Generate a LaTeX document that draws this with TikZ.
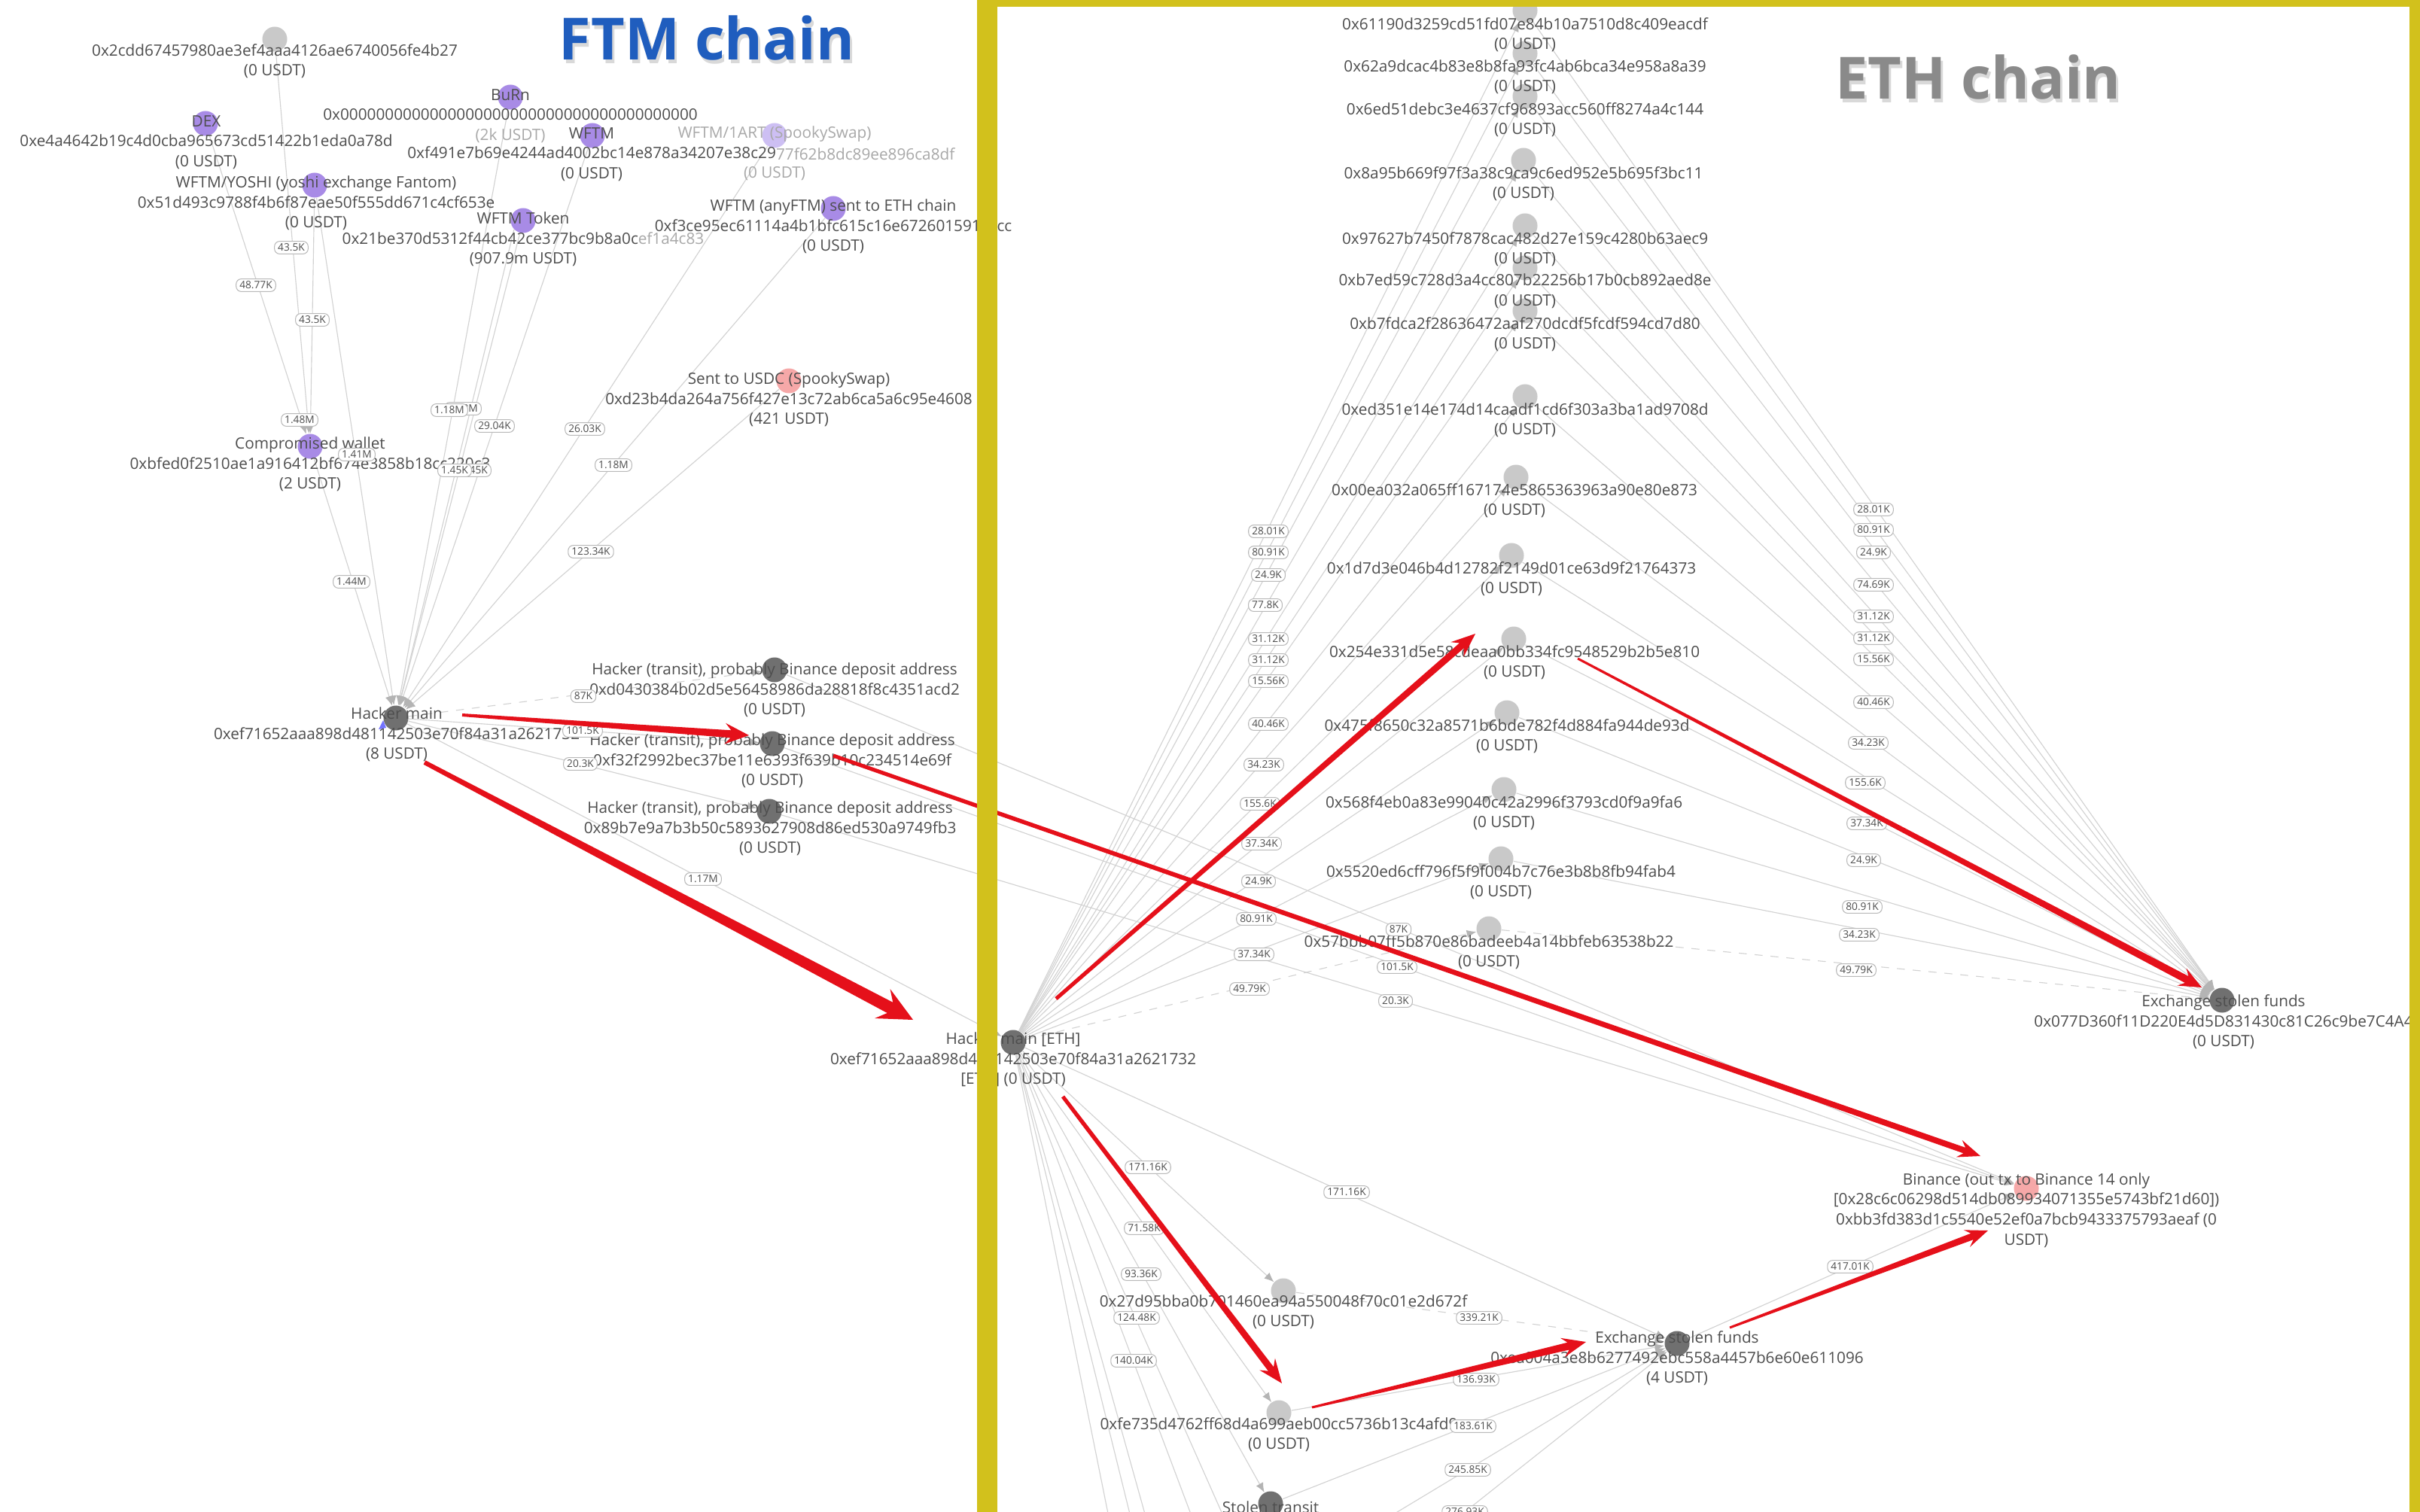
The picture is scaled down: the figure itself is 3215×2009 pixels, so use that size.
\documentclass[tikz,border=0pt]{standalone}
\usepackage{fontspec}
\setmainfont{Open Sans}
\usetikzlibrary{calc,arrows.meta}
\definecolor{txtc}{HTML}{4E4E4E}
\definecolor{txtl}{HTML}{A8A8A8}
\definecolor{edgec}{HTML}{D2D2D2}
\definecolor{tipc}{HTML}{B4B4B4}
\definecolor{purp}{HTML}{A88BE6}
\definecolor{lpurp}{HTML}{CDBFF3}
\definecolor{dgray}{HTML}{707070}
\definecolor{lgray}{HTML}{C9C9C9}
\definecolor{pinkc}{HTML}{F6A8A8}
\definecolor{yel}{HTML}{D2C11C}
\definecolor{redc}{HTML}{E5101A}
\definecolor{ftmblue}{HTML}{1F5DBE}
\definecolor{ethgray}{HTML}{8A8A8A}
\pgfdeclarelayer{bg}
\pgfsetlayers{bg,main}
\newcommand\redarrow[6]{%
  \pgfmathsetlengthmacro\raA{#3*0.005cm}%
  \pgfmathsetlengthmacro\raB{#4*0.005cm}%
  \pgfmathsetlengthmacro\raC{#5*0.005cm}%
  \pgfmathsetlengthmacro\raD{#6*0.01cm}%
  \pgfmathsetlengthmacro\raE{#6*0.0075cm}%
  \coordinate (rah) at ($(#2)!\raD!(#1)$);
  \coordinate (ran) at ($(#2)!\raE!(#1)$);
  \fill[redc] ($(#1)!\raA!90:(#2)$) -- ($(ran)!\raB!-90:(#1)$) -- ($(rah)!\raC!-90:(#1)$) -- (#2)
     -- ($(rah)!\raC!90:(#1)$) -- ($(ran)!\raB!90:(#1)$) -- ($(#1)!\raA!-90:(#2)$) -- cycle;
}
\newcommand\elab[3]{\node[elbl] (#1) at (#2) {#3};}
\begin{document}
\begin{tikzpicture}[x=0.01cm,y=-0.01cm,
 lbl/.style={font=\fontsize{5.9}{7.55}\selectfont, text=txtc, align=center, inner sep=0pt},
 dot/.style={circle, minimum size=0.33cm, inner sep=0pt, fill=#1},
 gline/.style={draw=edgec, line width=0.32pt, -{Latex[length=3.6pt,width=3pt,color=tipc]}},
 elbl/.style={font=\fontsize{3.9}{4.3}\selectfont, text=txtc, fill=white, draw=gray!55, line width=0.3pt, rounded corners=2pt, inner xsep=1.3pt, inner ysep=0.8pt, text height=2.9pt, text depth=0.3pt},
 title/.style={font=\fontsize{22}{26}\selectfont\bfseries, anchor=base, inner sep=0pt},
]
\path[use as bounding box] (0,0) rectangle (3215,2009);
\clip (0,0) rectangle (3215,2009);
\begin{pgfonlayer}{bg}
\fill[white] (0,0) rectangle (3215,2009);
\end{pgfonlayer}

% titles
\node[title, text=gray!30] (ftmsh) at (942,85) {FTM chain};
\node[title, text=ftmblue] (ftm) at (939,80) {FTM chain};
\node[title, text=gray!30] (ethsh) at (2631,137) {ETH chain};
\node[title, text=ethgray] (eth) at (2628,132) {ETH chain};

% ---------- FTM circles
\node[dot=lgray] (n2cdd) at (365,52) {};
\node[dot=purp] (burn) at (678,129) {};
\node[dot=purp] (dex) at (273,164) {};
\node[dot=purp] (wftm) at (787,180) {};
\node[dot=lpurp] (art) at (1029,180) {};
\node[dot=purp] (yoshi) at (418,246) {};
\node[dot=purp] (wtok) at (695,293) {};
\node[dot=purp] (any) at (1107,277) {};
\node[dot=pinkc] (usdc) at (1048,506) {};
\node[dot=purp] (comp) at (412,593) {};
\node[dot=dgray] (hmain) at (526,954) {};
\node[dot=dgray] (t1) at (1029,890) {};
\node[dot=dgray] (t2) at (1026,988) {};
\node[dot=dgray] (t3) at (1022,1078) {};

% ---------- ETH circles
\node[dot=dgray] (heth) at (1346,1385) {};
\node[dot=lgray] (na) at (2026,14) {};
\node[dot=lgray] (nb) at (2026,71) {};
\node[dot=lgray] (nc) at (2026,128) {};
\node[dot=lgray] (nd) at (2024,213) {};
\node[dot=lgray] (ne) at (2026,300) {};
\node[dot=lgray] (nf) at (2026,356) {};
\node[dot=lgray] (ng) at (2026,413) {};
\node[dot=lgray] (nh) at (2026,527) {};
\node[dot=lgray] (ni) at (2014,634) {};
\node[dot=lgray] (nj) at (2008,738) {};
\node[dot=lgray] (nk) at (2011,849) {};
\node[dot=lgray] (nl) at (2002,947) {};
\node[dot=lgray] (nm) at (1998,1049) {};
\node[dot=lgray] (nn) at (1994,1141) {};
\node[dot=lgray] (no) at (1978,1234) {};
\node[dot=dgray] (ex1) at (2952,1329) {};
\node[dot=pinkc] (bin) at (2692,1579) {};
\node[dot=lgray] (c27) at (1705,1715) {};
\node[dot=dgray] (ex2) at (2228,1785) {};
\node[dot=lgray] (cfe) at (1699,1877) {};
\node[dot=dgray] (stt) at (1688,1998) {};
\coordinate (offp) at (1672,2120);
\coordinate (offq) at (1665,2232);
\coordinate (offx) at (1560,2250);
\coordinate (offy) at (1500,2150);
\coordinate (offz) at (1610,2330);

% ---------- edges
\begin{pgfonlayer}{bg}
\draw[gline] (n2cdd) -- (comp);
\draw[gline] (dex) -- (comp);
\draw[gline] (yoshi) -- (comp);
\draw[gline] (yoshi) -- (hmain);
\draw[gline] (comp) -- (hmain);
\draw[gline] (burn) -- (hmain);
\draw[gline] (wftm) -- (hmain);
\draw[gline] (wtok) -- (hmain);
\draw[gline] (wtok.south west) -- (hmain);
\draw[gline] (art) -- (hmain);
\draw[gline] (any) -- (hmain);
\draw[gline] (usdc) -- (hmain);
\draw[gline, dashed] (hmain) -- (t1);
\draw[gline] (hmain) -- (t2);
\draw[gline] (hmain) -- (t3);
\draw[gline] (hmain) -- (heth);
\draw[gline] (t1) -- (bin);
\draw[gline] (t2) -- (bin);
\draw[gline] (t3) -- (bin);
\foreach \n in {na,nb,nc,nd,ne,nf,ng,nh,ni,nj,nk,nl,nm,nn} {
  \draw[gline] (heth) -- (\n);
  \draw[gline] (\n) -- (ex1);
}
\draw[gline, dashed] (heth) -- (no);
\draw[gline, dashed] (no) -- (ex1);
\draw[gline] (heth) -- (c27);
\draw[gline] (heth) -- (ex2);
\draw[gline] (heth) -- (cfe);
\draw[gline] (heth) -- (stt);
\draw[gline] (heth) -- (offp);
\draw[gline] (heth) -- (offq);
\draw[gline] (heth) -- (offx);
\draw[gline] (heth) -- (offy);
\draw[gline] (heth) -- (offz);
\draw[gline, dashed] (c27) -- (ex2);
\draw[gline] (cfe) -- (ex2);
\draw[gline] (stt) -- (ex2);
\draw[gline] (offp) -- (ex2);
\draw[gline] (offq) -- (ex2);
\draw[gline] (ex2) -- (bin);
\end{pgfonlayer}

% ---------- FTM labels
\node[lbl] (n2cdd-l) at (365,81) {0x2cdd67457980ae3ef4aaa4126ae6740056fe4b27\\(0 USDT)};
\node[lbl] (dex-l) at (274,189) {DEX\\0xe4a4642b19c4d0cba965673cd51422b1eda0a78d\\(0 USDT)};
\node[lbl, text=txtl] (art-l1) at (1029,178) {WFTM/1ART (SpookySwap)};
\node[lbl, text=txtl, anchor=east] (art-l2) at (1269,205) {77f62b8dc89ee896ca8df};
\node[lbl, text=txtl] (art-l3) at (1029,231) {(0 USDT)};
\node[lbl] (burn-l) at (678,154) {BuRn\\0x0000000000000000000000000000000000000000\\{\color{txtl}(2k USDT)}};
\node[lbl] (wftm-l) at (786,205) {WFTM\\0xf491e7b69e4244ad4002bc14e878a34207e38c29\\(0 USDT)};
\node[lbl] (yoshi-l) at (420,270) {WFTM/YOSHI (yoshi exchange Fantom)\\0x51d493c9788f4b6f87eae50f555dd671c4cf653e\\(0 USDT)};
\node[lbl] (wtok-l) at (695,318) {WFTM Token\\0x21be370d5312f44cb42ce377bc9b8a0c{\color{txtl}ef1a4c83}\\(907.9m USDT)};
\node[lbl] (any-l) at (1107,301) {WFTM (anyFTM) sent to ETH chain\\0xf3ce95ec61114a4b1bfc615c16e6726015913ccc\\(0 USDT)};
\node[lbl] (usdc-l) at (1048,531) {Sent to USDC (SpookySwap)\\0xd23b4da264a756f427e13c72ab6ca5a6c95e4608\\(421 USDT)};
\node[lbl] (comp-l) at (412,617) {Compromised wallet\\0xbfed0f2510ae1a916412bf674e3858b18cc220c3\\(2 USDT)};
\node[lbl] (hmain-l) at (527,976) {Hacker main\\0xef71652aaa898d481142503e70f84a31a2621732\\(8 USDT)};
\node[lbl] (t1-l) at (1029,917) {Hacker (transit), probably Binance deposit address\\0xd0430384b02d5e56458986da28818f8c4351acd2\\(0 USDT)};
\node[lbl] (t2-l) at (1026,1011) {Hacker (transit), probably Binance deposit address\\0xf32f2992bec37be11e6393f639b10c234514e69f\\(0 USDT)};
\node[lbl] (t3-l) at (1023,1101) {Hacker (transit), probably Binance deposit address\\0x89b7e9a7b3b50c5893627908d86ed530a9749fb3\\(0 USDT)};
\fill[blue!55!white] (503,969) -- (509,957) -- (513,967) -- cycle;

% ---------- ETH labels
\node[lbl] (heth-l) at (1346,1408) {Hacker main [ETH]\\0xef71652aaa898d481142503e70f84a31a2621732\\{[ETH] (0 USDT)}};
\node[lbl] (na-l) at (2026,46) {0x61190d3259cd51fd07e84b10a7510d8c409eacdf\\(0 USDT)};
\node[lbl] (nb-l) at (2026,102) {0x62a9dcac4b83e8b8fa93fc4ab6bca34e958a8a39\\(0 USDT)};
\node[lbl] (nc-l) at (2026,159) {0x6ed51debc3e4637cf96893acc560ff8274a4c144\\(0 USDT)};
\node[lbl] (nd-l) at (2024,244) {0x8a95b669f97f3a38c9ca9c6ed952e5b695f3bc11\\(0 USDT)};
\node[lbl] (ne-l) at (2026,331) {0x97627b7450f7878cac482d27e159c4280b63aec9\\(0 USDT)};
\node[lbl] (nf-l) at (2026,387) {0xb7ed59c728d3a4cc807b22256b17b0cb892aed8e\\(0 USDT)};
\node[lbl] (ng-l) at (2026,444) {0xb7fdca2f28636472aaf270dcdf5fcdf594cd7d80\\(0 USDT)};
\node[lbl] (nh-l) at (2026,558) {0xed351e14e174d14caadf1cd6f303a3ba1ad9708d\\(0 USDT)};
\node[lbl] (ni-l) at (2012,665) {0x00ea032a065ff167174e5865363963a90e80e873\\(0 USDT)};
\node[lbl] (nj-l) at (2008,769) {0x1d7d3e046b4d12782f2149d01ce63d9f21764373\\(0 USDT)};
\node[lbl] (nk-l) at (2012,880) {0x254e331d5e58cdeaa0bb334fc9548529b2b5e810\\(0 USDT)};
\node[lbl] (nl-l) at (2002,978) {0x475f8650c32a8571b6bde782f4d884fa944de93d\\(0 USDT)};
\node[lbl] (nm-l) at (1998,1080) {0x568f4eb0a83e99040c42a2996f3793cd0f9a9fa6\\(0 USDT)};
\node[lbl] (nn-l) at (1994,1172) {0x5520ed6cff796f5f9f004b7c76e3b8b8fb94fab4\\(0 USDT)};
\node[lbl] (no-l) at (1978,1265) {0x57bbb07ff5b870e86badeeb4a14bbfeb63538b22\\(0 USDT)};
\node[lbl] (ex1-l) at (2954,1358) {Exchange stolen funds\\0x077D360f11D220E4d5D831430c81C26c9be7C4A4\\(0 USDT)};
\node[lbl] (bin-l) at (2692,1608) {Binance (out tx to Binance 14 only\\{[0x28c6c06298d514db089934071355e5743bf21d60])}\\0xbb3fd383d1c5540e52ef0a7bcb9433375793aeaf (0\\USDT)};
\node[lbl] (c27-l) at (1705,1743) {0x27d95bba0b701460ea94a550048f70c01e2d672f\\(0 USDT)};
\node[lbl] (ex2-l) at (2228,1805) {Exchange stolen funds\\0xea004a3e8b6277492ebc558a4457b6e60e611096\\(4 USDT)};
\node[lbl] (cfe-l) at (1699,1906) {0xfe735d4762ff68d4a699aeb00cc5736b13c4afd9\\(0 USDT)};
\node[lbl] (stt-l) at (1688,2003) {Stolen transit};

% ---------- edge labels FTM
\elab{f01}{387,329}{43.5K}
\elab{f02}{340,379}{48.77K}
\elab{f03}{415,425}{43.5K}
\elab{f04}{398,558}{1.48M}
\elab{f05}{474,604}{1.41M}
\elab{f06}{615,543}{1.18M}
\elab{f07}{597,545}{1.18M}
\elab{f08}{657,566}{29.04K}
\elab{f09}{777,570}{26.03K}
\elab{f10}{815,618}{1.18M}
\elab{f11}{630,625}{1.45K}
\elab{f12}{604,625}{1.45K}
\elab{f13}{785,733}{123.34K}
\elab{f14}{467,773}{1.44M}
\elab{f15}{775,925}{87K}
\elab{f16}{774,971}{101.5K}
\elab{f17}{771,1015}{20.3K}
\elab{f18}{934,1168}{1.17M}

% ---------- edge labels ETH left
\elab{l01}{1685,706}{28.01K}
\elab{l02}{1685,734}{80.91K}
\elab{l03}{1685,764}{24.9K}
\elab{l04}{1681,804}{77.8K}
\elab{l05}{1685,849}{31.12K}
\elab{l06}{1685,877}{31.12K}
\elab{l07}{1685,905}{15.56K}
\elab{l08}{1685,962}{40.46K}
\elab{l09}{1679,1016}{34.23K}
\elab{l10}{1674,1068}{155.6K}
\elab{l11}{1676,1121}{37.34K}
\elab{l12}{1672,1171}{24.9K}
\elab{l13}{1669,1221}{80.91K}
\elab{l14}{1666,1268}{37.34K}
\elab{l15}{1660,1314}{49.79K}
% right
\elab{r01}{2489,677}{28.01K}
\elab{r02}{2489,704}{80.91K}
\elab{r03}{2489,734}{24.9K}
\elab{r04}{2489,777}{74.69K}
\elab{r05}{2489,819}{31.12K}
\elab{r06}{2489,848}{31.12K}
\elab{r07}{2489,876}{15.56K}
\elab{r08}{2489,933}{40.46K}
\elab{r09}{2482,987}{34.23K}
\elab{r10}{2478,1040}{155.6K}
\elab{r11}{2480,1094}{37.34K}
\elab{r12}{2476,1143}{24.9K}
\elab{r13}{2474,1205}{80.91K}
\elab{r14}{2470,1242}{34.23K}
\elab{r15}{2466,1289}{49.79K}
% others
\elab{b01}{1858,1235}{87K}
\elab{b02}{1856,1285}{101.5K}
\elab{b03}{1854,1330}{20.3K}
\elab{b04}{1525,1551}{171.16K}
\elab{b05}{1520,1632}{71.58K}
\elab{b06}{1516,1693}{93.36K}
\elab{b07}{1510,1751}{124.48K}
\elab{b08}{1506,1808}{140.04K}
\elab{b09}{1789,1584}{171.16K}
\elab{b10}{1965,1751}{339.21K}
\elab{b11}{1961,1833}{136.93K}
\elab{b12}{1957,1895}{183.61K}
\elab{b13}{1950,1953}{245.85K}
\elab{b14}{1946,2009}{276.93K}
\elab{b15}{2458,1683}{417.01K}

% ---------- red annotation arrows
\coordinate (r1s) at (614,950);  \coordinate (r1e) at (995,977);
\coordinate (r2s) at (564,1013); \coordinate (r2e) at (1213,1355);
\coordinate (r3s) at (1107,1004);\coordinate (r3e) at (2631,1536);
\coordinate (r4s) at (1403,1327);\coordinate (r4e) at (1960,842);
\coordinate (r5s) at (2096,875); \coordinate (r5e) at (2925,1312);
\coordinate (r6s) at (1412,1457);\coordinate (r6e) at (1703,1838);
\coordinate (r7s) at (1743,1870);\coordinate (r7e) at (2107,1783);
\coordinate (r8s) at (2298,1764);\coordinate (r8e) at (2641,1635);
\redarrow{r1s}{r1e}{4}{10}{28}{32}
\redarrow{r2s}{r2e}{6}{16}{44}{46}
\redarrow{r3s}{r3e}{5}{8}{24}{30}
\redarrow{r4s}{r4e}{5}{9}{26}{32}
\redarrow{r5s}{r5e}{3}{10}{26}{30}
\redarrow{r6s}{r6e}{5}{9}{26}{32}
\redarrow{r7s}{r7e}{3}{10}{26}{32}
\redarrow{r8s}{r8e}{3}{9}{24}{30}

% ---------- yellow frame of the ETH panel
\fill[yel] (1298,0) rectangle (1325,2009);
\fill[yel] (1298,0) rectangle (3215,9);
\fill[yel] (3201,0) rectangle (3215,2009);
\end{tikzpicture}
\end{document}
